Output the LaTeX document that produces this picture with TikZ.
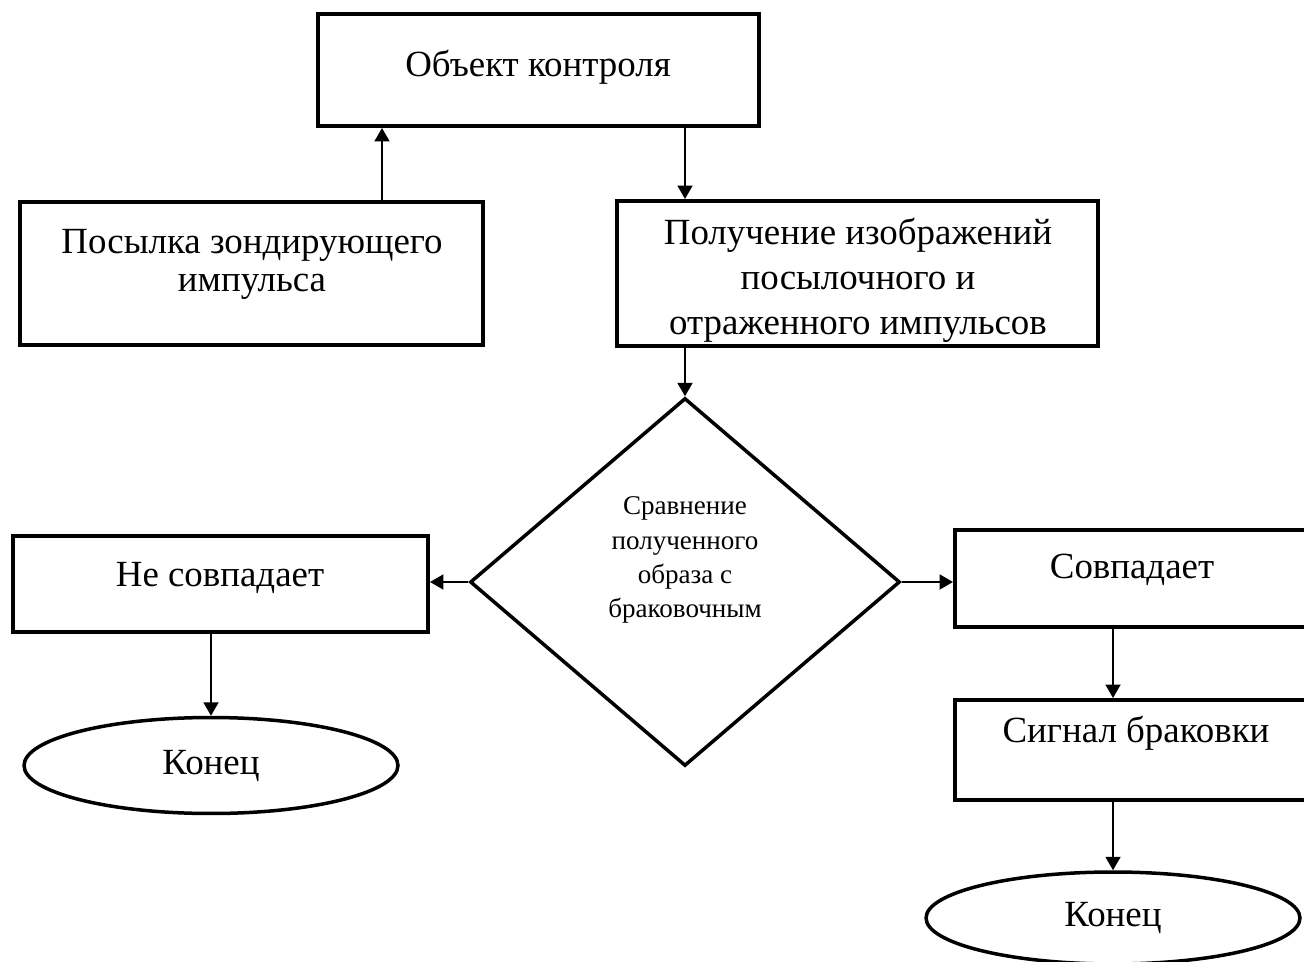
\documentclass[tikz,border=0pt]{standalone}
\usepackage{fontspec}
\setmainfont{Liberation Serif}
\usetikzlibrary{shapes.geometric,arrows.meta}
\tikzset{
  box/.style={draw, line width=0.08cm, rectangle, inner sep=0pt},
  txt/.style={align=center, inner sep=0pt, font=\fontsize{21pt}{21.6pt}\selectfont},
  txtwide/.style={align=center, inner sep=0pt, font=\fontsize{21pt}{25.6pt}\selectfont},
  dtxt/.style={align=center, inner sep=0pt, font=\fontsize{15.4pt}{19.4pt}\selectfont},
  dec/.style={draw, diamond, line width=0.07cm, inner sep=0pt},
  term/.style={draw, ellipse, line width=0.07cm, inner sep=0pt, font=\fontsize{21pt}{21.6pt}\selectfont},
  arr/.style={line width=0.04cm, -{Triangle[length=0.27cm,width=0.3cm]}}
}
\begin{document}
\begin{tikzpicture}[x=0.02cm,y=-0.02cm]
\useasboundingbox (0,0) rectangle (1304,962);
\clip (0,0) rectangle (1304,962);
\fill[white] (0,0) rectangle (1304,962);
% boxes
\node[box, minimum width=8.82cm, minimum height=2.24cm] (b1) at (538.5,70) {};
\node[box, minimum width=9.26cm, minimum height=2.86cm] (b2) at (251.5,273.5) {};
\node[box, minimum width=9.62cm, minimum height=2.9cm] (b3) at (857.5,273.5) {};
\node[box, minimum width=8.3cm, minimum height=1.92cm] (b4) at (220.5,584) {};
\node[box, minimum width=7.16cm, minimum height=1.94cm] (b5) at (1134,578.5) {};
\node[box, minimum width=7.16cm, minimum height=2.0cm] (b6) at (1134,750) {};
\node[dec, minimum width=8.6cm, minimum height=7.36cm] (d) at (685,582) {};
\node[term, minimum width=7.48cm, minimum height=1.92cm] (e1) at (211,765.5) {Конец};
\node[term, minimum width=7.48cm, minimum height=1.84cm] (e2) at (1113,918) {Конец};
% texts
\node[txt] (t1) at (538,67) {Объект контроля};
\node[txt] (t2) at (252,264) {Посылка зондирующего\\импульса};
\node[txtwide] (t3) at (858,280) {Получение изображений\\посылочного и\\отраженного импульсов};
\node[txt] (t4) at (220,578) {Не совпадает};
\node[txt] (t5) at (1132,570) {Совпадает};
\node[txt] (t6) at (1136,733) {Сигнал браковки};
\node[dtxt] (td) at (685,560) {Сравнение\\полученного\\образа с\\браковочным};
% connectors
\coordinate (c1) at (382,0);
\draw[arr] (c1 |- b2.north) -- (c1 |- b1.south);
\draw[arr] (d.north |- b1.south) -- (d.north |- b3.north);
\draw[arr] (d.north |- b3.south) -- (d.north);
\draw[arr] (d.west) -- (d.west -| b4.east);
\draw[arr] (d.east) -- (d.east -| b5.west);
\draw[arr] (e1.north |- b4.south) -- (e1.north);
\draw[arr] (e2.north |- b5.south) -- (e2.north |- b6.north);
\draw[arr] (e2.north |- b6.south) -- (e2.north);
\end{tikzpicture}
\end{document}
